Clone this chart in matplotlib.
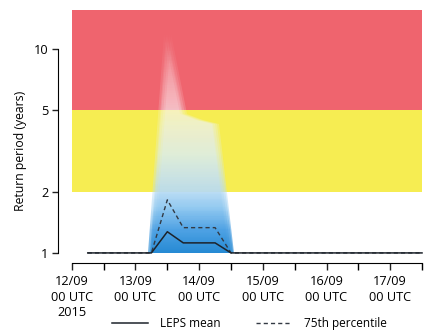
import numpy as np
import matplotlib
matplotlib.use('Agg')
import matplotlib.pyplot as plt
from matplotlib.colors import LinearSegmentedColormap
from matplotlib.lines import Line2D
from matplotlib.transforms import Affine2D, TransformedPath

plt.rcParams['font.family'] = ['Open Sans', 'DejaVu Sans']

# forecast steps, hours after 12/09 00 UTC (every 6 h)
hours = np.arange(6, 133, 6)
leps_mean = [1.0] * 5 + [1.27, 1.12, 1.12, 1.12] + [1.0] * 13
p75 = [1.0] * 5 + [1.82, 1.33, 1.33, 1.33] + [1.0] * 13
ens_max = [1.0] * 5 + [12.0, 4.8, 4.5, 4.3] + [1.0] * 13

day_ticks = [0, 24, 48, 72, 96, 120]
day_labels = ['12/09\n00 UTC\n2015', '13/09\n00 UTC', '14/09\n00 UTC',
              '15/09\n00 UTC', '16/09\n00 UTC', '17/09\n00 UTC']

fig = plt.figure(figsize=(4.25, 3.35), dpi=100)
ax = fig.add_axes([0.169, 0.245, 0.824, 0.725])
ax.set_yscale('log')
ax.set_xlim(0, 132)
ax.set_ylim(1, 15.5)

# warning bands
ax.axhspan(5, 15.5, color='#ef646e', lw=0, zorder=0)
ax.axhspan(2, 5, color='#f6ed52', lw=0, zorder=0)

# spread of the ensemble: blue fading to white with height,
# drawn as a few shifted layers to soften the edges
nlay = 5
stops = [
    (0.00, (0.15, 0.54, 0.83), 1.0),
    (0.10, (0.30, 0.63, 0.89), 1.0),
    (0.20, (0.55, 0.78, 0.94), 0.96),
    (0.28, (0.72, 0.86, 0.96), 0.92),
    (0.45, (0.86, 0.93, 0.98), 0.80),
    (0.60, (0.94, 0.96, 0.99), 0.68),
    (0.70, (1.00, 0.97, 0.99), 0.55),
    (1.00, (1.00, 1.00, 1.00), 0.05),
]
blues = LinearSegmentedColormap.from_list('spread', [
    (v, (*rgb, 1 - (1 - min(a, 0.995)) ** (1 / nlay))) for v, rgb, a in stops])
yy = np.logspace(0, np.log10(15.5), 300)
cc = np.log10(0.5 * (yy[1:] + yy[:-1]))[:, None]
poly = ax.fill_between(hours, 1, ens_max, facecolor='none', edgecolor='none')
clip = poly.get_paths()[0]
for s in np.linspace(-1.3, 1.3, nlay):
    mesh = ax.pcolormesh([0, 132], yy, cc, cmap=blues, vmin=0, vmax=1.08,
                         shading='flat', zorder=1, antialiased=False)
    mesh.set_clip_path(TransformedPath(clip, Affine2D().translate(s, 0) + ax.transData))

ax.plot(hours, p75, color='#333a44', lw=1.0, dashes=(3, 2.2), zorder=3, clip_on=False)
ax.plot(hours, leps_mean, color='#1d232b', lw=1.1, zorder=4, clip_on=False)

for side in ['top', 'right']:
    ax.spines[side].set_visible(False)
ax.spines['left'].set_position(('outward', 10))
ax.spines['left'].set_bounds(1, 10)
ax.spines['bottom'].set_position(('outward', 7))
ax.set_yticks([1, 2, 5, 10])
ax.set_yticklabels(['1', '2', '5', '10'])
ax.minorticks_off()
ax.set_xticks(day_ticks)
ax.set_xticklabels(day_labels, linespacing=1.25)
ax.set_xticks(np.arange(12, 133, 24), minor=True)
ax.tick_params(axis='both', labelsize=9.2, color='#222', width=1.0, length=4, pad=3)
ax.tick_params(axis='x', which='both', length=5, width=1.0, pad=4)
ax.set_ylabel('Return period (years)', fontsize=8.8)
ax.yaxis.set_label_coords(-0.127, 0.42)

handles = [Line2D([], [], color='#1d232b', lw=1.1),
           Line2D([], [], color='#333a44', lw=1.0, dashes=(3, 2.2))]
fig.legend(handles, ['LEPS mean', '75th percentile'], loc='center',
           bbox_to_anchor=(0.587, 0.033), ncol=2, frameon=False, fontsize=8.5,
           handlelength=3.05, handletextpad=1.0, columnspacing=3.0)

fig.savefig('out.png', dpi=100)
